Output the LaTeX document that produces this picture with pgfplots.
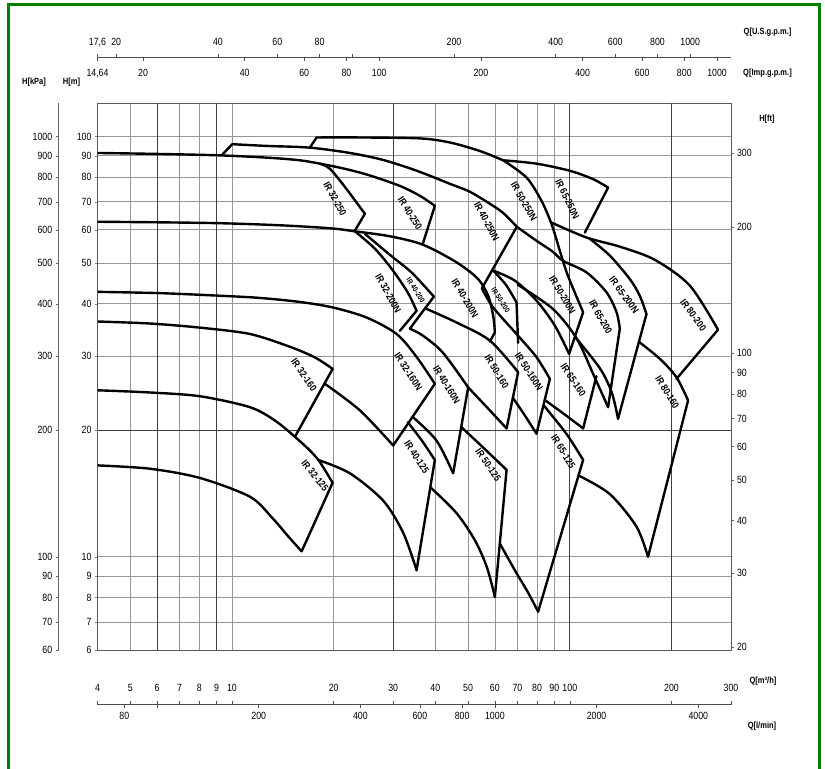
\documentclass[border=0pt]{standalone}
\usepackage{pgfplots}
\pgfplotsset{compat=1.18}
\usepackage{fontspec}
\setmainfont{Liberation Sans}[FakeStretch=0.84]
\definecolor{frame}{RGB}{0,128,0}
\definecolor{gridc}{RGB}{150,150,150}

\pgfplotsset{
  pump/.style={black, line width=2.4bp, line cap=round, mark=none},
  qscale/.style={scale only axis, width=633.5bp, height=1bp,
    hide y axis, ymin=0, ymax=1, xminorticks=false,
    axis line style={black!70, line width=0.8bp},
    major tick length=3.5bp, tick style={black!70, line width=0.6bp},
    tick label style={font=\fontsize{10.5}{11}\selectfont}},
}
\newcommand\pl[1]{\bfseries\fontsize{10}{10}\selectfont #1}

\begin{document}
\begin{tikzpicture}[x=1bp,y=1bp]
\path[use as bounding box] (0,0) rectangle (825,769);
\draw[frame, line width=3bp] (8.7,-2) -- (8.7,764) -- (819,764) -- (819,-2);

% main chart, Q in m3/h, H in m
\begin{axis}[
  at={(97.5bp,119bp)}, anchor=south west,
  scale only axis, width=633.5bp, height=546.7bp,
  xmode=log, ymode=log, xmin=4, xmax=300, ymin=6, ymax=120,
  xtick={5,6,7,8,9,10,20,30,40,50,60,70,80,90,100,200},
  xticklabel={\mbox{}}, xtick style={draw=none},
  ytick={6,7,8,9,10,20,30,40,50,60,70,80,90,100},
  yticklabels={6,7,8,9,10,20,30,40,50,60,70,80,90,100},
  ytick pos=left, ytick align=outside, major tick length=2.5bp,
  yticklabel style={font=\fontsize{10.5}{11}\selectfont},
  xminorticks=false, yminorticks=false,
  xmajorgrids, ymajorgrids,
  major grid style={gridc, line width=0.7bp},
  extra x ticks={6,9,30,100,200},
  extra x tick style={xticklabel={\mbox{}}, major grid style={black!75, line width=0.9bp}, tick style={draw=none}},
  extra y ticks={20},
  extra y tick style={yticklabel={\mbox{}}, major grid style={black!75, line width=0.9bp}},
  axis line style={black!65, line width=0.8bp},
]
% curves starting at the left edge
\addplot[pump, smooth] coordinates {(4,91.4) (6.12,90.9) (9.22,90.2) (12.95,89.0) (15.89,87.8) (18.21,86.2) (21.59,83.8) (25.60,80.8) (31.41,76.3) (35.99,72.3) (39.86,68.4)};
\addplot[pump] coordinates {(39.86,68.4) (36.73,55.6)};
\addplot[pump, smooth] coordinates {(18.21,86.2) (19.50,83.8) (21.59,75.9) (24.74,65.5)};
\addplot[pump] coordinates {(24.74,65.5) (23.11,59.7)};
\addplot[pump, smooth] coordinates {(4,62.7) (6.12,62.5) (9.22,62.2) (13.87,61.5) (19.50,60.5) (23.11,59.5) (29.34,57.9) (36.73,55.3) (46.21,50.2) (53.53,45.8) (57.32,41.8) (59.31,37.5) (60.00,34.2)};
\addplot[pump] coordinates {(60.00,34.2) (57.98,32.5)};
\addplot[pump, smooth] coordinates {(4,42.7) (6.12,42.4) (9.22,41.8) (12.10,41.3) (15.89,40.4) (19.90,39.2) (25.03,37.1) (30.71,33.9) (35.19,29.9) (39.86,25.8)};
\addplot[pump] coordinates {(39.86,25.8) (30.01,18.4)};
\addplot[pump, smooth] coordinates {(4,36.3) (5.72,35.9) (8.04,35.1) (11.30,33.9) (14.85,31.6) (17.61,29.8) (19.86,28.0)};
\addplot[pump] coordinates {(19.86,28.0) (15.36,19.3)};
\addplot[pump, smooth] coordinates {(4,24.9) (5.72,24.6) (8.04,24.1) (11.30,22.7) (13.40,21.1) (15.36,19.3) (17.01,17.9) (18.21,16.8) (19.86,15.0)};
\addplot[pump] coordinates {(19.86,15.0) (16.08,10.3)};
\addplot[pump, smooth] coordinates {(4,16.5) (5.72,16.2) (8.04,15.4) (11.30,13.9) (13.13,12.4) (14.65,11.2) (16.08,10.3)};
% upper family
\addplot[pump] coordinates {(9.32,90.2) (10.02,95.9)};
\addplot[pump, smooth] coordinates {(10.02,95.9) (12.67,95.0) (17.01,94.1) (22.34,91.4) (27.97,88.0) (35.26,82.9) (44.16,77.2) (50.60,73.9) (57.98,69.2) (63.36,65.9) (69.69,61.0)};
\addplot[pump] coordinates {(69.69,61.0) (54.9,43.5)};
\addplot[pump] coordinates {(17.01,94.1) (17.80,99.5)};
\addplot[pump, smooth] coordinates {(17.80,99.5) (23.92,99.5) (35.99,99.0) (44.16,96.8) (54.16,92.4) (63.49,87.8)};
\addplot[pump, smooth] coordinates {(63.49,87.8) (79.70,86.2) (100,82.9) (117.2,79.2) (129.8,75.6)};
\addplot[pump] coordinates {(129.8,75.6) (110.8,59.1)};
\addplot[pump, smooth] coordinates {(63.49,87.8) (74.45,79.9) (82.46,70.3) (88.31,61.9) (93.41,53.5) (97.97,47.4) (103.5,42.5) (109.5,38.2)};
\addplot[pump] coordinates {(109.5,38.2) (99.52,30.4)};
\addplot[pump, smooth] coordinates {(69.69,61.0) (79.70,56.5) (89.09,53.2) (95.54,50.6) (112.1,47.5) (128.4,42.6) (137.5,38.2) (140.6,34.9)};
\addplot[pump] coordinates {(140.6,34.9) (129.8,22.7)};
\addplot[pump, smooth] coordinates {(88.31,62.4) (112.1,57.5) (140.6,54.7) (178.4,50.9) (226.5,44.2) (274.6,34.7)};
\addplot[pump] coordinates {(274.6,34.7) (206.8,26.5)};
\addplot[pump, smooth] coordinates {(114.6,57.1) (131.3,52.1) (150.5,45.8) (161.1,41.8) (168.6,37.8)};
\addplot[pump] coordinates {(168.6,37.8) (138.9,21.3)};
% middle family
\addplot[pump, smooth] coordinates {(23.11,59.5) (26.49,54.1) (29.95,48.0) (33.16,42.5) (35.19,38.5)};
\addplot[pump] coordinates {(35.19,38.5) (31.41,34.5)};
\addplot[pump, smooth] coordinates {(24.74,58.7) (29.34,52.3) (34.08,47.4) (39.59,41.6)};
\addplot[pump] coordinates {(39.59,41.6) (33.62,34.9)};
\addplot[pump, smooth] coordinates {(33.62,34.9) (36.73,33.6) (42.10,30.6) (50.02,25.3)};
\addplot[pump] coordinates {(50.02,25.3) (45.15,15.8)};
\addplot[pump, smooth] coordinates {(34.31,21.5) (40.32,18.9) (45.15,15.8)};
\addplot[pump, smooth] coordinates {(33.16,20.9) (36.49,18.9) (39.86,17.0)};
\addplot[pump] coordinates {(39.86,17.0) (35.19,9.29)};
\addplot[pump, smooth] coordinates {(18.00,17.0) (22.34,15.8) (28.03,13.6) (32.13,11.4) (35.19,9.29)};
\addplot[pump, smooth] coordinates {(18.84,25.8) (23.92,22.3) (30.01,18.4)};
\addplot[pump, smooth] coordinates {(37.67,38.9) (46.21,36.1) (57.98,32.7) (70.31,27.5)};
\addplot[pump] coordinates {(70.31,27.5) (64.99,20.2)};
\addplot[pump, smooth] coordinates {(50.02,25.3) (57.98,22.3) (64.99,20.2)};
\addplot[pump, smooth] coordinates {(47.59,20.4) (55.39,18.2) (64.99,16.1)};
\addplot[pump] coordinates {(64.99,16.1) (60.00,8.03)};
\addplot[pump, smooth] coordinates {(38.80,14.6) (46.21,12.7) (52.35,10.95) (56.82,9.45) (60.00,8.03)};
\addplot[pump, smooth] coordinates {(59.31,48.0) (64.67,44.4) (69.55,40.3)};
\addplot[pump] coordinates {(69.55,40.3) (70.31,32.3)};
\addplot[pump, smooth] coordinates {(59.31,48.0) (68.75,45.4) (79.70,40.7) (90.29,35.5) (99.52,30.4)};
\addplot[pump, smooth] coordinates {(70.17,44.4) (89.09,38.9) (104.7,33.1) (117.8,27.0) (129.8,22.7)};
\addplot[pump, smooth] coordinates {(103.5,33.4) (122.7,28.1) (133.1,24.6) (138.9,21.3)};
\addplot[pump] coordinates {(119.9,26.9) (109.5,20.2)};
\addplot[pump, smooth] coordinates {(84.35,23.6) (96.65,21.8) (109.5,20.2)};
\addplot[pump, smooth] coordinates {(83.78,22.9) (97.78,19.6) (109.5,17.0)};
\addplot[pump] coordinates {(109.5,17.0) (80.57,7.40)};
\addplot[pump, smooth] coordinates {(62.09,10.75) (68.75,9.29) (75.11,8.24) (80.57,7.40)};
\addplot[pump, smooth] coordinates {(106.3,15.6) (131.3,14.1) (157.5,11.8) (170.4,10.0)};
\addplot[pump] coordinates {(170.4,10.0) (223.9,23.55)};
\addplot[pump, smooth] coordinates {(160.0,32.5) (184.6,29.6) (206.8,26.75) (223.9,23.55)};
\addplot[pump, smooth] coordinates {(54.9,43.5) (59.31,39.2) (69.55,33.9) (79.70,29.85) (87.29,26.5)};
\addplot[pump] coordinates {(87.29,26.5) (79.70,19.63)};
\addplot[pump, smooth] coordinates {(67.82,23.9) (73.59,21.7) (79.70,19.63)};
\end{axis}

% H [kPa]
\begin{axis}[
  at={(58.7bp,119bp)}, anchor=south west, scale only axis,
  width=1bp, height=546.7bp, xmin=0, xmax=1, hide x axis,
  ymode=log, ymin=60, ymax=1200, axis y line*=left, yminorticks=false,
  ytick={60,70,80,90,100,200,300,400,500,600,700,800,900,1000},
  yticklabels={60,70,80,90,100,200,300,400,500,600,700,800,900,1000},
  ytick align=outside, major tick length=3bp,
  axis line style={black!60, line width=0.8bp}, tick style={black!60},
  yticklabel style={font=\fontsize{10.5}{11}\selectfont},
]
\end{axis}

% H [ft]
\begin{axis}[
  at={(97.5bp,119bp)}, anchor=south west, scale only axis,
  width=633.5bp, height=546.7bp, xmin=0, xmax=1, hide x axis,
  ymode=log, ymin=19.685, ymax=393.7, axis y line*=right, yminorticks=false,
  ytick={20,30,40,50,60,70,80,90,100,200,300},
  yticklabels={20,30,40,50,60,70,80,90,100,200,300},
  ytick align=outside, major tick length=2.5bp,
  axis line style={draw=none}, tick style={black!60},
  yticklabel style={font=\fontsize{10.5}{11}\selectfont},
]
\end{axis}

% Q [U.S.g.p.m.]
\begin{axis}[qscale, xmode=log, at={(97.5bp,711.7bp)}, anchor=south west,
  xmin=17.61, xmax=1320.9, axis x line*=bottom, xtick align=inside,
  xtick={17.61,20,40,60,80,100,200,400,600,800,1000},
  xticklabels={{17,6},20,40,60,80,{},200,400,600,800,1000},
  xticklabel style={anchor=base, yshift=12bp}]
\end{axis}
% Q [Imp.g.p.m.]
\begin{axis}[qscale, xmode=log, at={(97.5bp,710.7bp)}, anchor=south west,
  xmin=14.665, xmax=1099.9, axis x line*=top, xtick align=inside,
  xtick={14.665,20,40,60,80,100,200,400,600,800,1000},
  xticklabels={{14,64},20,40,60,80,100,200,400,600,800,1000},
  xticklabel style={anchor=base, yshift=-19bp}]
\end{axis}
% Q [m3/h]
\begin{axis}[qscale, xmode=log, at={(97.5bp,64.3bp)}, anchor=south west,
  xmin=4, xmax=300, axis x line*=bottom, xtick align=inside,
  xtick={4,5,6,7,8,9,10,20,30,40,50,60,70,80,90,100,200,300},
  xticklabels={4,5,6,7,8,9,10,20,30,40,50,60,70,80,90,100,200,300},
  xticklabel style={anchor=base, yshift=13bp}]
\end{axis}
% Q [l/min]
\begin{axis}[qscale, xmode=log, at={(97.5bp,63.3bp)}, anchor=south west,
  xmin=66.667, xmax=5000, axis x line*=top, xtick align=inside,
  xtick={80,100,200,400,600,800,1000,2000,4000},
  xticklabels={80,{},200,400,600,800,1000,2000,4000},
  xticklabel style={anchor=base, yshift=-15bp}]
\end{axis}

% axis titles
\begin{scope}[every node/.style={font=\bfseries\fontsize{9}{10}\selectfont}]
\node at (34,686.5) {H[kPa]};
\node at (71.5,687) {H[m]};
\node at (767.5,737) {Q[U.S.g.p.m.]};
\node at (767.5,696) {Q[Imp.g.p.m.]};
\node at (767,650) {H[ft]};
\node at (763,88) {Q[m³/h]};
\node at (762,43) {Q[l/min]};
\end{scope}

% pump labels
\node[rotate=-61] at (335,570) {\pl{IR 32-250}};
\node[rotate=-58] at (410,555.7) {\pl{IR 40-250}};
\node[rotate=-62] at (486.7,547.3) {\pl{IR 40-250N}};
\node[rotate=-60] at (524,567.3) {\pl{IR 50-250N}};
\node[rotate=-64] at (567.3,570) {\pl{IR 65-250N}};
\node[rotate=-61] at (388.3,475.7) {\pl{IR 32-200N}};
\node[rotate=-57] at (415.7,479) {\bfseries\fontsize{7.5}{8}\selectfont IR 40-200};
\node[rotate=-59] at (465,470.7) {\pl{IR 40-200N}};
\node[rotate=-57] at (500.7,469) {\bfseries\fontsize{7.5}{8}\selectfont IR 50-200};
\node[rotate=-60] at (562.3,474) {\pl{IR 50-200N}};
\node[rotate=-61] at (600.7,451.7) {\pl{IR 65-200}};
\node[rotate=-54] at (624,474) {\pl{IR 65-200N}};
\node[rotate=-54] at (693.3,454) {\pl{IR 80-200}};
\node[rotate=-55] at (304,394) {\pl{IR 32-160}};
\node[rotate=-57] at (408.3,397.3) {\pl{IR 32-160N}};
\node[rotate=-59] at (446.7,384) {\pl{IR 40-160N}};
\node[rotate=-51] at (315,293.3) {\pl{IR 32-125}};
\node[rotate=-57] at (416.7,311.7) {\pl{IR 40-125}};
\node[rotate=-55] at (488.3,304) {\pl{IR 50-125}};
\node[rotate=-58] at (496.7,397.3) {\pl{IR 50-160}};
\node[rotate=-57] at (529,397.3) {\pl{IR 50-160N}};
\node[rotate=-56] at (573.3,389) {\pl{IR 65-160}};
\node[rotate=-58] at (563.3,317.3) {\pl{IR 65-125}};
\node[rotate=-59] at (667.3,376.7) {\pl{IR 80-160}};
\end{tikzpicture}
\end{document}
